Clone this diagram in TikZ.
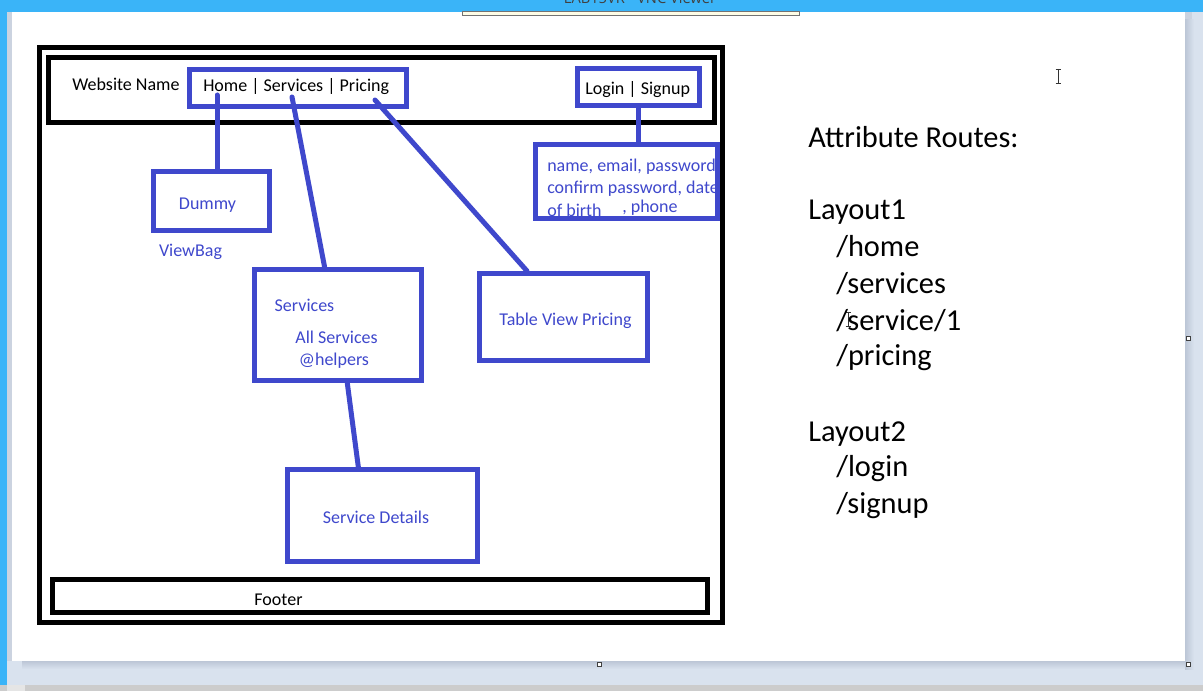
\documentclass[tikz,border=0pt]{standalone}
\usepackage{fontspec}
\setmainfont{Carlito}
\newfontfamily\titlefont{Open Sans}
\usetikzlibrary{calc}
\definecolor{ind}{HTML}{3F48CC}
\definecolor{tbar}{HTML}{3AB4F8}
\definecolor{sidegrey}{HTML}{CBD3E0}
\definecolor{bgblue}{HTML}{D9E2EE}
\definecolor{shadowc}{HTML}{BCC6D6}
\definecolor{stripc}{HTML}{CCCCCC}
\definecolor{tipc}{HTML}{FFFDE6}
\begin{document}
\begin{tikzpicture}[x=0.75pt,y=-0.75pt,
  sz/.style n args={2}{minimum width={#1*0.75pt},minimum height={#2*0.75pt}},
  frame/.style={draw=black,line width=3.75pt,inner sep=0pt},
  bbox/.style={draw=ind,line width=3.75pt,inner sep=0pt},
  conn/.style={draw=ind,line width=3.75pt,line cap=round},
  ktxt/.style={inner sep=0pt,text=black,font=\fontsize{13.5}{16}\selectfont},
  btxt/.style={inner sep=0pt,text=ind,font=\fontsize{13.5}{16}\selectfont},
  rtxt/.style={inner sep=0pt,text=black,anchor=west,font=\fontsize{22.8}{27}\selectfont},
  handle/.style={draw=black!75,fill=white,line width=0.6pt,inner sep=0pt,minimum size=3pt}]
\useasboundingbox (0,0) rectangle (1203,691);
% ---- screenshot frame ----
\fill[bgblue] (0,0) rectangle (1203,691);
\fill[sidegrey] (7,12) rectangle (12,661);
\fill[sidegrey] (1185,12) rectangle (1192,668);
\fill[top color=shadowc,bottom color=bgblue] (22,661) rectangle (1192,669);
\fill[left color=shadowc,right color=bgblue] (1185,20) rectangle (1194,669);
\fill[white] (12,12) rectangle (1185,661);
\fill[tbar] (0,0) rectangle (1203,12);
\fill[tbar] (0,0) rectangle (7,686);
\fill[stripc] (0,685) rectangle (1203,691);
\fill[black!10] (7,685) rectangle (25,691);
\begin{scope}
\clip (0,0) rectangle (1203,12);
\node[inner sep=0pt,anchor=base,text=black!75,font=\titlefont\fontsize{11}{13}\selectfont] (title) at (640,4) {LAB15VR - VNC Viewer};
\end{scope}
\node[draw=black!55,fill=tipc,line width=0.75pt,inner sep=0pt,sz={337}{4}] (tip) at (630.5,14) {};
\node[handle] (h1) at (1188,338) {};
\node[handle] (h2) at (1188,664) {};
\node[handle] (h3) at (599,664) {};
% I-beam cursors
\draw[black!80,line width=0.6pt] (1058,69) -- (1058,83) (1055.5,69) -- (1060.5,69) (1055.5,83) -- (1060.5,83);
\draw[black!80,line width=0.6pt] (848,312) -- (848,326) (845.5,312) -- (850.5,312) (845.5,326) -- (850.5,326);
% ---- diagram ----
\node[frame,sz={682.5}{574.5}] (outer) at (380.75,334.75) {};
\node[frame,sz={666.5}{65}] (header) at (381.25,90) {};
\node[frame,sz={655}{33}] (footer) at (379.5,595.5) {};
\node[bbox,sz={217}{37}] (nav) at (298,88) {};
\node[bbox,sz={122}{37}] (login) at (638.5,87) {};
\node[bbox,sz={182}{74}] (details) at (626,182) {};
\node[bbox,sz={116}{59}] (dummy) at (211.5,201) {};
\node[bbox,sz={167}{111}] (services) at (338,325) {};
\node[bbox,sz={168}{87}] (pricing) at (563.5,317) {};
\node[bbox,sz={189.5}{91.5}] (sdetails) at (382.25,515.25) {};
% texts
\node[ktxt,anchor=west] (wname) at (72,84) {Website Name};
\node[ktxt,anchor=west] (navt) at (203,87) {Home | Services | Pricing};
\node[ktxt,anchor=west] (logint) at (585,90) {Login | Signup};
\node[ktxt] (foott) at (278.5,600) {Footer};
\node[btxt,anchor=west] (d1) at (547,167) {name, email, password,};
\node[btxt,anchor=west] (d2) at (547,189) {confirm password, date};
\node[btxt,anchor=west] (d3) at (547,210) {of birth};
\node[btxt,anchor=west] (d4) at (622,208) {, phone};
\node[btxt] (dummyt) at (207.5,205) {Dummy};
\node[btxt] (viewbag) at (190.5,252) {ViewBag};
\node[btxt] (s1) at (304.5,305) {Services};
\node[btxt] (s2) at (336.5,337) {All Services};
\node[btxt] (s3) at (334,361) {@helpers};
\node[btxt] (pt) at (565.5,321) {Table View Pricing};
\node[btxt] (sdt) at (376,517) {Service Details};
% connectors
\coordinate (homept) at (217,95);
\coordinate (servpt) at (292,97);
\coordinate (pricept) at (375,100);
\draw[conn] (homept) -- (homept |- dummy.north);
\draw[conn] (servpt) -- ($(services.north west)!0.422!(services.north east)$);
\draw[conn] (pricept) -- ($(pricing.north west)!0.289!(pricing.north east)$);
\draw[conn] ($(services.south west)!0.554!(services.south east)$) -- ($(sdetails.north west)!0.377!(sdetails.north east)$);
\draw[conn] (login.south) -- (login.south |- details.north);
% right text
\node[rtxt] (r0) at (808,137) {Attribute Routes:};
\node[rtxt] (r1) at (808,212) {Layout1};
\node[rtxt] (r2) at (836,247) {/home};
\node[rtxt] (r3) at (836,284) {/services};
\node[rtxt] (r4) at (836,321) {/service/1};
\node[rtxt] (r5) at (836,358) {/pricing};
\node[rtxt] (r6) at (808,434) {Layout2};
\node[rtxt] (r7) at (836,469) {/login};
\node[rtxt] (r8) at (836,506) {/signup};
\end{tikzpicture}
\end{document}
